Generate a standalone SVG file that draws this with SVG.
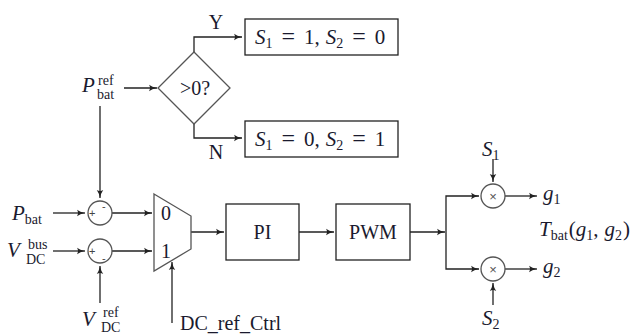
<svg xmlns="http://www.w3.org/2000/svg" width="641" height="334" viewBox="0 0 641 334">
<defs>
<marker id="ar" markerWidth="10" markerHeight="8" refX="9" refY="4" orient="auto" markerUnits="userSpaceOnUse">
<path d="M1,0.8 Q4,3 9,4 Q4,5 1,7.2 Q3,4 1,0.8 Z" fill="#222"/>
</marker>
</defs>
<style>
.ln{fill:none;stroke:#222;stroke-width:1.3}
.bx{fill:#fff;stroke:#222;stroke-width:1.3}
.gr{fill:#fff;stroke:#555;stroke-width:1.3}
.t{font-family:"Liberation Serif",serif;font-size:20px;fill:#1a1a2e}
.b{font-size:21px}
.i{font-style:italic}
.s{font-size:14px}
.eq{font-size:24px}
.sm{font-family:"Liberation Sans",sans-serif;font-size:11px;fill:#444}
.x{font-family:"Liberation Sans",sans-serif;font-size:13px;fill:#555}
.m{text-anchor:middle}
</style>
<rect width="641" height="334" fill="#fff"/>

<g id="connectors">
<path class="ln" d="M124,88 H157" marker-end="url(#ar)"/>
<path class="ln" d="M194,52 V37 H242" marker-end="url(#ar)"/>
<path class="ln" d="M194,124 V138 H242" marker-end="url(#ar)"/>
<path class="ln" d="M100,106 V198" marker-end="url(#ar)"/>
<path class="ln" d="M53,213 H85" marker-end="url(#ar)"/>
<path class="ln" d="M53,251 H85" marker-end="url(#ar)"/>
<path class="ln" d="M100,303 V266" marker-end="url(#ar)"/>
<path class="ln" d="M112,213 H152" marker-end="url(#ar)"/>
<path class="ln" d="M112,251 H152" marker-end="url(#ar)"/>
<path class="ln" d="M172,323 V262" marker-end="url(#ar)"/>
<path class="ln" d="M191,232 H224" marker-end="url(#ar)"/>
<path class="ln" d="M299,232 H334" marker-end="url(#ar)"/>
<path class="ln" d="M410,232 H445" marker-end="url(#ar)"/>
<path class="ln" d="M446,232 V196 H479" marker-end="url(#ar)"/>
<path class="ln" d="M446,232 V269 H479" marker-end="url(#ar)"/>
<path class="ln" d="M493,159 V182" marker-end="url(#ar)"/>
<path class="ln" d="M493,305 V283" marker-end="url(#ar)"/>
<path class="ln" d="M505,196 H537" marker-end="url(#ar)"/>
<path class="ln" d="M505,269 H537" marker-end="url(#ar)"/>
</g>

<g id="pbatref">
<text class="t b i" x="82" y="92">P</text>
<text class="t s" x="98" y="85">ref</text>
<text class="t s" x="97" y="99">bat</text>
</g>

<g id="decision">
<polygon class="gr" points="194,52 230,88 194,124 158,88"/>
<text class="t m" x="195" y="95">&gt;0?</text>
</g>

<g id="labelY"><text class="t m" x="216" y="29">Y</text></g>
<g id="labelN"><text class="t m" x="216" y="159">N</text></g>

<g id="box_s1">
<rect class="bx" x="245" y="19" width="153" height="36"/>
<text class="t b" x="255" y="44"><tspan class="i">S</tspan><tspan class="s" dy="4">1</tspan><tspan class="eq" dx="9" dy="-4">=</tspan><tspan dx="9">1,</tspan><tspan class="i" dx="6">S</tspan><tspan class="s" dy="4">2</tspan><tspan class="eq" dx="9" dy="-4">=</tspan><tspan dx="9">0</tspan></text>
</g>

<g id="box_s2">
<rect class="bx" x="245" y="121" width="153" height="36"/>
<text class="t b" x="255" y="146"><tspan class="i">S</tspan><tspan class="s" dy="4">1</tspan><tspan class="eq" dx="9" dy="-4">=</tspan><tspan dx="9">0,</tspan><tspan class="i" dx="6">S</tspan><tspan class="s" dy="4">2</tspan><tspan class="eq" dx="9" dy="-4">=</tspan><tspan dx="9">1</tspan></text>
</g>

<g id="pbat">
<text class="t b" y="220"><tspan class="i" x="12">P</tspan><tspan class="s" dy="4">bat</tspan></text>
</g>

<g id="vdcbus">
<text class="t b i" x="7" y="257">V</text>
<text class="t s" x="28" y="249">bus</text>
<text class="t s" x="26" y="264">DC</text>
</g>

<g id="vdcref">
<text class="t b i" x="82" y="326">V</text>
<text class="t s" x="103" y="317">ref</text>
<text class="t s" x="101" y="332">DC</text>
</g>

<g id="sum1">
<circle class="gr" cx="100" cy="213" r="12"/>
<text class="sm" x="89" y="217">+</text>
<text class="sm" x="102" y="210">-</text>
</g>

<g id="sum2">
<circle class="gr" cx="100" cy="251" r="12"/>
<text class="sm" x="89" y="255">+</text>
<text class="sm" x="102" y="262">-</text>
</g>

<g id="mux">
<polygon class="gr" points="154,194 191,216 191,249 154,271"/>
<text class="t" x="161" y="220">0</text>
<text class="t" x="161" y="258">1</text>
</g>

<g id="dcrefctrl"><text class="t" x="180" y="330">DC_ref_Ctrl</text></g>

<g id="pi">
<rect class="bx" x="226" y="204" width="73" height="56"/>
<text class="t m" x="262.5" y="239">PI</text>
</g>

<g id="pwm">
<rect class="bx" x="336" y="204" width="74" height="56"/>
<text class="t m" x="373" y="239">PWM</text>
</g>

<g id="mult1">
<circle class="gr" cx="493" cy="196" r="12"/>
<text class="x m" x="493" y="200.5">×</text>
</g>

<g id="mult2">
<circle class="gr" cx="493" cy="269" r="12"/>
<text class="x m" x="493" y="273.5">×</text>
</g>

<g id="s1label"><text class="t b" y="156"><tspan class="i" x="482">S</tspan><tspan class="s" dy="4">1</tspan></text></g>
<g id="s2label"><text class="t b" y="325"><tspan class="i" x="482">S</tspan><tspan class="s" dy="4">2</tspan></text></g>
<g id="g1label"><text class="t b" y="200"><tspan class="i" x="543">g</tspan><tspan class="s" dy="4">1</tspan></text></g>
<g id="g2label"><text class="t b" y="273"><tspan class="i" x="543">g</tspan><tspan class="s" dy="4">2</tspan></text></g>
<g id="tbat"><text class="t b" x="539" y="236"><tspan class="i">T</tspan><tspan class="s" dy="4">bat</tspan><tspan dx="1" dy="-4">(</tspan><tspan class="i">g</tspan><tspan class="s" dy="4">1</tspan><tspan dy="-4">,</tspan><tspan class="i" dx="6">g</tspan><tspan class="s" dy="4">2</tspan><tspan dx="1" dy="-4">)</tspan></text></g>
</svg>
